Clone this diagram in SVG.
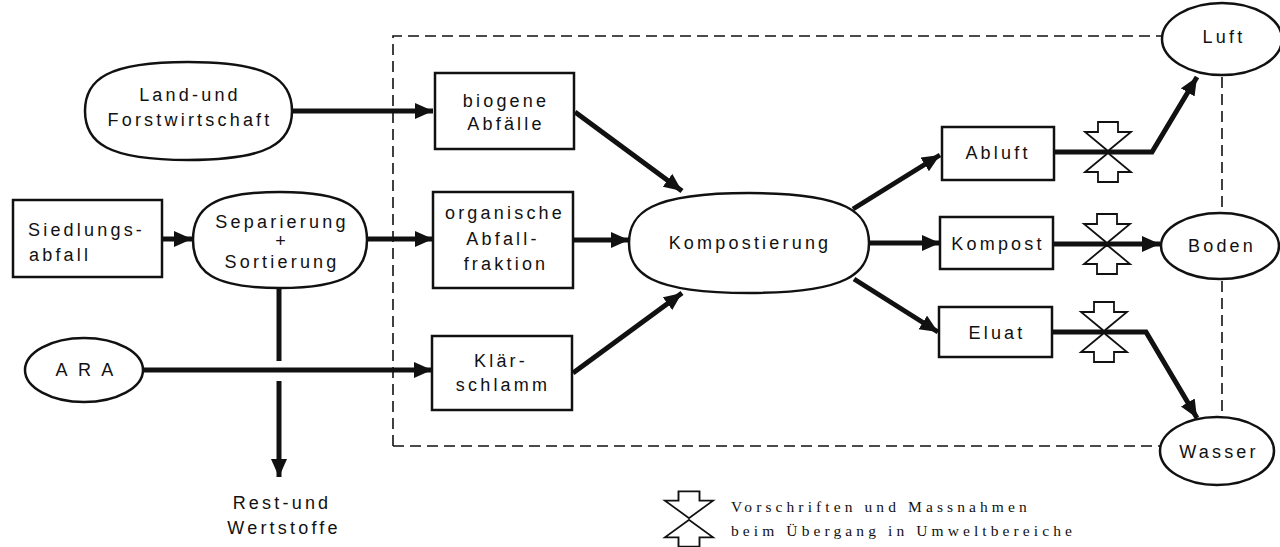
<svg xmlns="http://www.w3.org/2000/svg" width="1280" height="547" viewBox="0 0 1280 547">
<defs>
<style>
.t{font-family:"Liberation Sans",Arial,sans-serif;font-size:18px;letter-spacing:3.2px;fill:#111;text-anchor:middle}
.box{fill:#fff;stroke:#111;stroke-width:2.5}
.ov{fill:#fff;stroke:#111;stroke-width:2.5}
.fl{fill:none;stroke:#111;stroke-width:5;stroke-linejoin:miter}
.ar{fill:none;stroke:#111;stroke-width:5;marker-end:url(#ah)}
.dash{fill:none;stroke:#111;stroke-width:1.6;stroke-dasharray:11 6}
.sym{fill:#fff;stroke:#111;stroke-width:1.8;stroke-linejoin:miter}
.lg{font-family:"Liberation Serif","Times New Roman",serif;font-size:15.5px;letter-spacing:4.1px;fill:#111}
</style>
<marker id="ah" markerUnits="userSpaceOnUse" markerWidth="20" markerHeight="18" refX="18" refY="8" orient="auto">
<path d="M0,0 L18,8 L0,16 Z" fill="#111"/>
</marker>
<g id="valve">
<polygon points="-10,-30 10,-30 10,-20 23,-20 0,-1 -23,-20 -10,-20" class="sym"/>
<polygon points="-10,30 10,30 10,20 23,20 0,1 -23,20 -10,20" class="sym"/>
</g>
</defs>
<rect width="1280" height="547" fill="#fff"/>

<g id="boundary">
<path class="dash" d="M393,446 L393,36 L1165,36"/>
<path class="dash" d="M1222,60 L1222,420"/>
<path class="dash" d="M393,446 L1162,446"/>
</g>

<g id="connectors">
<path class="ar" d="M292,111 L433,111"/>
<path class="ar" d="M162,239 L192,239"/>
<path class="ar" d="M367,239 L433,239"/>
<path class="fl" d="M279,288 L279,361"/>
<path class="ar" d="M279,381 L279,477"/>
<path class="ar" d="M143,370 L432,370"/>
<path class="ar" d="M575,112 L682,191"/>
<path class="ar" d="M573,240 L629,240"/>
<path class="ar" d="M573,373 L682,293"/>
<path class="ar" d="M853,209 L940,155"/>
<path class="ar" d="M869,243 L940,243"/>
<path class="ar" d="M854,279 L938,332"/>
<path class="ar" d="M1054,152 L1152,152 L1197,77"/>
<path class="ar" d="M1053,244 L1160,244"/>
<path class="ar" d="M1052,332 L1146,332 L1197,418"/>
<use href="#valve" x="1108" y="152"/>
<use href="#valve" x="1107" y="244"/>
<use href="#valve" x="1104" y="332"/>
</g>

<g id="land">
<path class="ov" d="M85,111 C85,79 108,62 188,62 C268,62 292,79 292,111 C292,143 268,160 188,160 C108,160 85,143 85,111 Z"/>
<text class="t" x="190" y="101">Land-und</text>
<text class="t" x="190" y="126">Forstwirtschaft</text>
</g>

<g id="siedlung">
<rect class="box" x="13" y="200" width="149" height="77"/>
<text class="t" x="28" y="236" style="text-anchor:start">Siedlungs-</text>
<text class="t" x="29" y="261" style="text-anchor:start">abfall</text>
</g>

<g id="separierung">
<path class="ov" d="M193,240 C193,208 213,192 280,192 C347,192 367,208 367,240 C367,272 347,288 280,288 C213,288 193,272 193,240 Z"/>
<text class="t" x="282" y="228">Separierung</text>
<text class="t" x="282" y="247">+</text>
<text class="t" x="282" y="268">Sortierung</text>
</g>

<g id="ara">
<ellipse class="ov" cx="84" cy="370" rx="59" ry="32"/>
<text class="t" x="86" y="376">A R A</text>
</g>

<g id="rest">
<text class="t" x="282" y="509">Rest-und</text>
<text class="t" x="284" y="534">Wertstoffe</text>
</g>

<g id="biogen">
<rect class="box" x="435" y="73" width="139" height="76"/>
<text class="t" x="506" y="107">biogene</text>
<text class="t" x="506" y="130">Abfälle</text>
</g>

<g id="organisch">
<rect class="box" x="433" y="192" width="140" height="96"/>
<text class="t" x="505" y="219">organische</text>
<text class="t" x="503" y="245">Abfall-</text>
<text class="t" x="506" y="270">fraktion</text>
</g>

<g id="klaer">
<rect class="box" x="432" y="336" width="140" height="74"/>
<text class="t" x="501" y="367">Klär-</text>
<text class="t" x="503" y="391">schlamm</text>
</g>

<g id="kompostierung">
<path class="ov" d="M629,243 C629,213 650,193 749,193 C848,193 869,213 869,243 C869,273 848,293 749,293 C650,293 629,273 629,243 Z"/>
<text class="t" x="750" y="249">Kompostierung</text>
</g>

<g id="abluft">
<rect class="box" x="942" y="127" width="112" height="53"/>
<text class="t" x="998" y="159">Abluft</text>
</g>

<g id="kompost">
<rect class="box" x="940" y="217" width="113" height="52"/>
<text class="t" x="998" y="250">Kompost</text>
</g>

<g id="eluat">
<rect class="box" x="939" y="307" width="113" height="50"/>
<text class="t" x="997" y="339">Eluat</text>
</g>

<g id="luft">
<ellipse class="ov" cx="1222" cy="39" rx="60" ry="36"/>
<text class="t" x="1224" y="43">Luft</text>
</g>

<g id="boden">
<ellipse class="ov" cx="1220" cy="246" rx="59" ry="33"/>
<text class="t" x="1222" y="252">Boden</text>
</g>

<g id="wasser">
<ellipse class="ov" cx="1217" cy="451" rx="57" ry="34"/>
<text class="t" x="1219" y="458">Wasser</text>
</g>

<g id="legend">
<use href="#valve" x="689" y="519" transform="translate(689,519) scale(1.05,0.92) translate(-689,-519)"/>
<text class="lg" x="731" y="512">Vorschriften und Massnahmen</text>
<text class="lg" x="731" y="536">beim Übergang in Umweltbereiche</text>
</g>
</svg>
